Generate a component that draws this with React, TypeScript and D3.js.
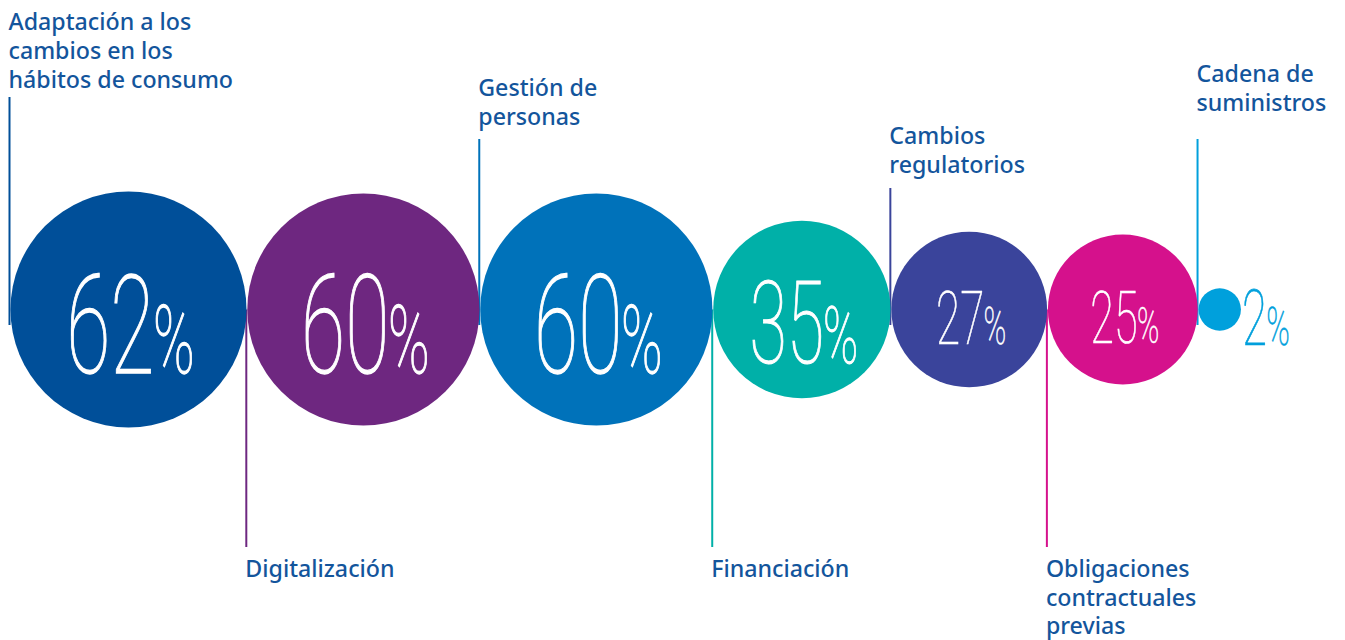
import React from "react";
import * as d3 from "d3";

// ---- data ----
const categories: string[][] = [
  ["Adaptación a los", "cambios en los", "hábitos de consumo"],
  ["Digitalización"],
  ["Gestión de", "personas"],
  ["Financiación"],
  ["Cambios", "regulatorios"],
  ["Obligaciones", "contractuales", "previas"],
  ["Cadena de", "suministros"],
];
const values: number[] = [62, 60, 60, 35, 27, 25, 2];

// ---- styles / layout ----
const colors = ["#004f99", "#6e2780", "#0072ba", "#00b0a8", "#3a449b", "#d5118c", "#00a0dc"];
const numberHeights = [97, 97, 97, 82, 53, 52, 55];
const topLineStart = [97, 0, 139, 0, 188, 0, 139];
const topLastBaseline = [87.5, 0, 124.5, 0, 172.7, 0, 111];

const W = 1345;
const H = 640;
const CY = 309.5;
const LINE_TOP_END = 325;
const LINE_BOTTOM_END = 547;
const BOTTOM_FIRST_BASELINE = 577;
const LINE_H = 28.7;
const LABEL_COLOR = "#13559c";
const GAP = 0.8;
const LEFT0 = 10.5;

export default function App() {
  const r = d3.scaleSqrt().domain([0, d3.max(values) as number]).range([0, 118]);

  let left = LEFT0;
  const items = values.map((v, i) => {
    const rad = r(v);
    const cx = left + rad;
    const item = { v, i, rad, cx, left };
    left = cx + rad + GAP;
    return item;
  });

  return (
    <svg width={W} height={H} style={{ position: "absolute", left: 0, top: 0 }}>
      {/* connector lines */}
      {items.map(({ i, left: l }) => {
        const x = l - 1;
        const isTop = i % 2 === 0;
        return (
          <line
            key={"l" + i}
            x1={x}
            x2={x}
            y1={isTop ? topLineStart[i] : CY}
            y2={isTop ? LINE_TOP_END : LINE_BOTTOM_END}
            stroke={colors[i]}
            strokeWidth={2}
          />
        );
      })}
      {/* circles */}
      {items.map(({ i, rad, cx }) => (
        <circle key={"c" + i} cx={cx} cy={CY} r={rad} fill={colors[i]} />
      ))}
      {/* labels */}
      {items.map(({ i, left: l }) => {
        const lines = categories[i];
        const isTop = i % 2 === 0;
        const x = l - 2;
        const firstBase = isTop ? topLastBaseline[i] - (lines.length - 1) * LINE_H : BOTTOM_FIRST_BASELINE;
        return (
          <text
            key={"t" + i}
            x={x}
            y={firstBase}
            fontFamily="'Noto Sans', sans-serif"
            fontWeight={500}
            fontSize={23.2}
            fill={LABEL_COLOR}
          >
            {lines.map((s, k) => (
              <tspan key={k} x={x} dy={k === 0 ? 0 : LINE_H}>
                {s}
              </tspan>
            ))}
          </text>
        );
      })}
      {/* percentages */}
      {items.map(({ v, i, rad, cx }) => {
        const h = numberHeights[i];
        const digits = String(v);
        const digitsW = digits.length * 0.455 * h;
        const gap = -0.015 * h;
        const pctW = 0.43 * h;
        const total = digitsW + gap + pctW;
        const inside = i < values.length - 1;
        const x0 = inside ? cx + 2 - total / 2 : cx + rad + 1;
        const base = CY + 0.65 * h;
        const fill = inside ? "#ffffff" : colors[i];
        const sw = 0.013 * h;
        return (
          <g key={"n" + i} fill={fill} stroke={fill} strokeWidth={sw} fontFamily="Roboto" fontWeight={100}>
            <text x={x0} y={base} fontSize={h / 0.711} textLength={digitsW} lengthAdjust="spacingAndGlyphs">
              {digits}
            </text>
            <text
              x={x0 + digitsW + gap}
              y={base}
              fontSize={(0.7 * h) / 0.72}
              textLength={pctW}
              lengthAdjust="spacingAndGlyphs"
            >
              %
            </text>
          </g>
        );
      })}
    </svg>
  );
}
